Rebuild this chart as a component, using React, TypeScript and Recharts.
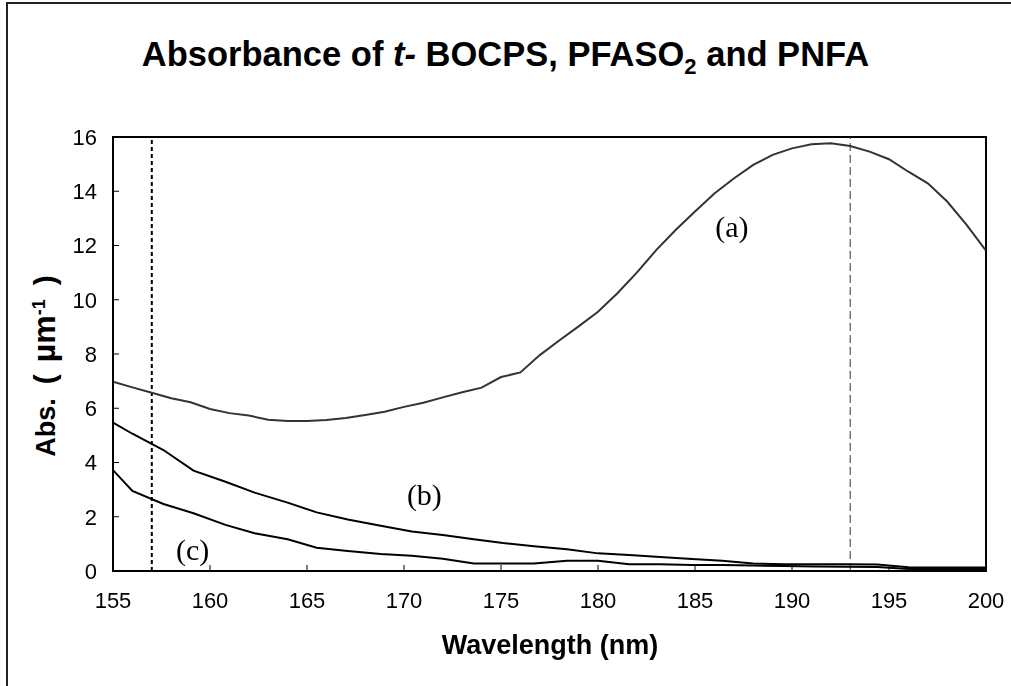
import { LineChart, Line, XAxis, YAxis, ReferenceLine, ReferenceArea, ReferenceDot } from "recharts";

const xTicks = [155, 160, 165, 170, 175, 180, 185, 190, 195, 200];
const yTicks = [0, 2, 4, 6, 8, 10, 12, 14, 16];

// (a) t-BOCPS
const waveA = [
  155, 156, 157, 158, 159, 160, 161, 162, 163, 164, 165, 166, 167, 168, 169, 170, 171, 172, 173, 174, 175, 176, 177,
  178, 179, 180, 181, 182, 183, 184, 185, 186, 187, 188, 189, 190, 191, 192, 193, 194, 195, 196, 197, 198, 199, 200,
];
const absA = [
  6.98, 6.77, 6.57, 6.37, 6.22, 5.97, 5.82, 5.73, 5.58, 5.53, 5.53, 5.57, 5.64, 5.75, 5.87, 6.05, 6.2, 6.4, 6.59, 6.76,
  7.15, 7.32, 7.96, 8.5, 9.02, 9.56, 10.24, 11.0, 11.83, 12.57, 13.25, 13.92, 14.47, 14.97, 15.34, 15.58, 15.73, 15.77,
  15.67, 15.46, 15.18, 14.72, 14.29, 13.62, 12.76, 11.81,
];

// (b) PFASO2 and (c) PNFA share the sampling
const waveBC = [
  155, 156, 157.6, 159.15, 160.8, 162.3, 164, 165.5, 167.1, 168.8, 170.4, 172, 173.6, 175.1, 176.7, 178.4, 180, 181.6,
  183.2, 184.85, 186.4, 188, 189.6, 191.2, 192.8, 194.4, 196, 197.6, 199.2, 200,
];
const absB = [
  5.47, 5.06, 4.46, 3.7, 3.29, 2.89, 2.52, 2.16, 1.9, 1.67, 1.46, 1.33, 1.17, 1.03, 0.91, 0.8, 0.65, 0.59, 0.52, 0.44,
  0.38, 0.28, 0.25, 0.25, 0.25, 0.24, 0.14, 0.13, 0.13, 0.13,
];
const absC = [
  3.72, 2.95, 2.47, 2.13, 1.7, 1.39, 1.17, 0.86, 0.74, 0.63, 0.56, 0.45, 0.28, 0.28, 0.28, 0.38, 0.38, 0.25, 0.25, 0.22,
  0.22, 0.2, 0.18, 0.17, 0.16, 0.15, 0.07, 0.07, 0.07, 0.07,
];

const markers = [157, 193];

const seriesA = waveA.map((w, i) => ({ w, v: absA[i] }));
const seriesB = waveBC.map((w, i) => ({ w, v: absB[i] }));
const seriesC = waveBC.map((w, i) => ({ w, v: absC[i] }));

const sans = "'Liberation Sans', Arial, sans-serif";
const serif = "'Liberation Serif', 'Times New Roman', serif";

const tagLabel = (value: string) => ({
  value,
  position: "center" as const,
  fill: "#000",
  fontSize: 30,
  fontFamily: serif,
});

const App = () => {
  return (
    <div style={{ position: "fixed", left: 0, top: 0, width: 1011, height: 686, background: "#fff" }}>
      <div
        style={{
          position: "absolute",
          left: 6,
          top: 2,
          width: 1005,
          height: 684,
          borderTop: "2px solid #222",
          borderLeft: "2px solid #222",
        }}
      />
      <div
        style={{
          position: "absolute",
          left: 0,
          width: 1011,
          top: 37,
          textAlign: "center",
          fontFamily: sans,
          fontWeight: "bold",
          fontSize: 34.5,
          lineHeight: "35px",
          whiteSpace: "nowrap",
        }}
      >
        Absorbance of <i>t-</i> BOCPS, PFASO
        <sub style={{ fontSize: 22, lineHeight: 0 }}>2</sub> and PNFA
      </div>
      <div
        style={{
          position: "absolute",
          left: 45,
          top: 366,
          transform: "translate(-50%, -50%) rotate(-90deg)",
          whiteSpace: "nowrap",
          fontFamily: sans,
          fontWeight: "bold",
          fontSize: 27,
          lineHeight: "32px",
        }}
      >
        Abs.
        <span style={{ marginLeft: 14, fontSize: 30 }}>(</span>
        <span style={{ marginLeft: 12, fontSize: 32 }}>µm</span>
        <sup style={{ fontSize: 18, lineHeight: 0 }}>-1</sup>
        <span style={{ marginLeft: 14, fontSize: 30 }}>)</span>
      </div>
      <div
        style={{
          position: "absolute",
          left: 0,
          width: 1100,
          top: 632,
          textAlign: "center",
          fontFamily: sans,
          fontWeight: "bold",
          fontSize: 27,
          lineHeight: "27px",
        }}
      >
        Wavelength (nm)
      </div>
      <LineChart
        width={1011}
        height={686}
        margin={{ top: 137, right: 25, bottom: 75, left: 53 }}
        style={{ position: "absolute", left: 0, top: 0 }}
      >
        <XAxis
          dataKey="w"
          type="number"
          domain={[155, 200]}
          ticks={xTicks}
          height={40}
          tickSize={-6}
          tickMargin={27}
          axisLine={{ stroke: "#000", strokeWidth: 2 }}
          tickLine={{ stroke: "#000" }}
          tick={{ fill: "#000", fontSize: 22, fontFamily: sans }}
          allowDataOverflow
        />
        <YAxis
          type="number"
          domain={[0, 16]}
          ticks={yTicks}
          width={60}
          tickSize={-6}
          tickMargin={22}
          axisLine={{ stroke: "#000", strokeWidth: 2 }}
          tickLine={{ stroke: "#000" }}
          tick={{ fill: "#000", fontSize: 22, fontFamily: sans }}
          allowDataOverflow
        />
        <ReferenceArea x1={155} x2={200} y1={0} y2={16} fill="none" stroke="#000" strokeWidth={2} />
        <ReferenceLine x={markers[0]} stroke="#000" strokeWidth={2} strokeDasharray="4 3" />
        <ReferenceLine x={markers[1]} stroke="#333" strokeWidth={1} strokeDasharray="8 4" />
        <Line data={seriesA} dataKey="v" type="linear" stroke="#333" strokeWidth={2} dot={false} isAnimationActive={false} />
        <Line data={seriesB} dataKey="v" type="linear" stroke="#000" strokeWidth={2} dot={false} isAnimationActive={false} />
        <Line data={seriesC} dataKey="v" type="linear" stroke="#000" strokeWidth={2} dot={false} isAnimationActive={false} />
        <ReferenceDot x={186.9} y={12.7} r={0} fill="none" stroke="none" label={tagLabel("(a)")} />
        <ReferenceDot x={171.05} y={2.84} r={0} fill="none" stroke="none" label={tagLabel("(b)")} />
        <ReferenceDot x={159.1} y={0.81} r={0} fill="none" stroke="none" label={tagLabel("(c)")} />
      </LineChart>
    </div>
  );
};

export default App;
